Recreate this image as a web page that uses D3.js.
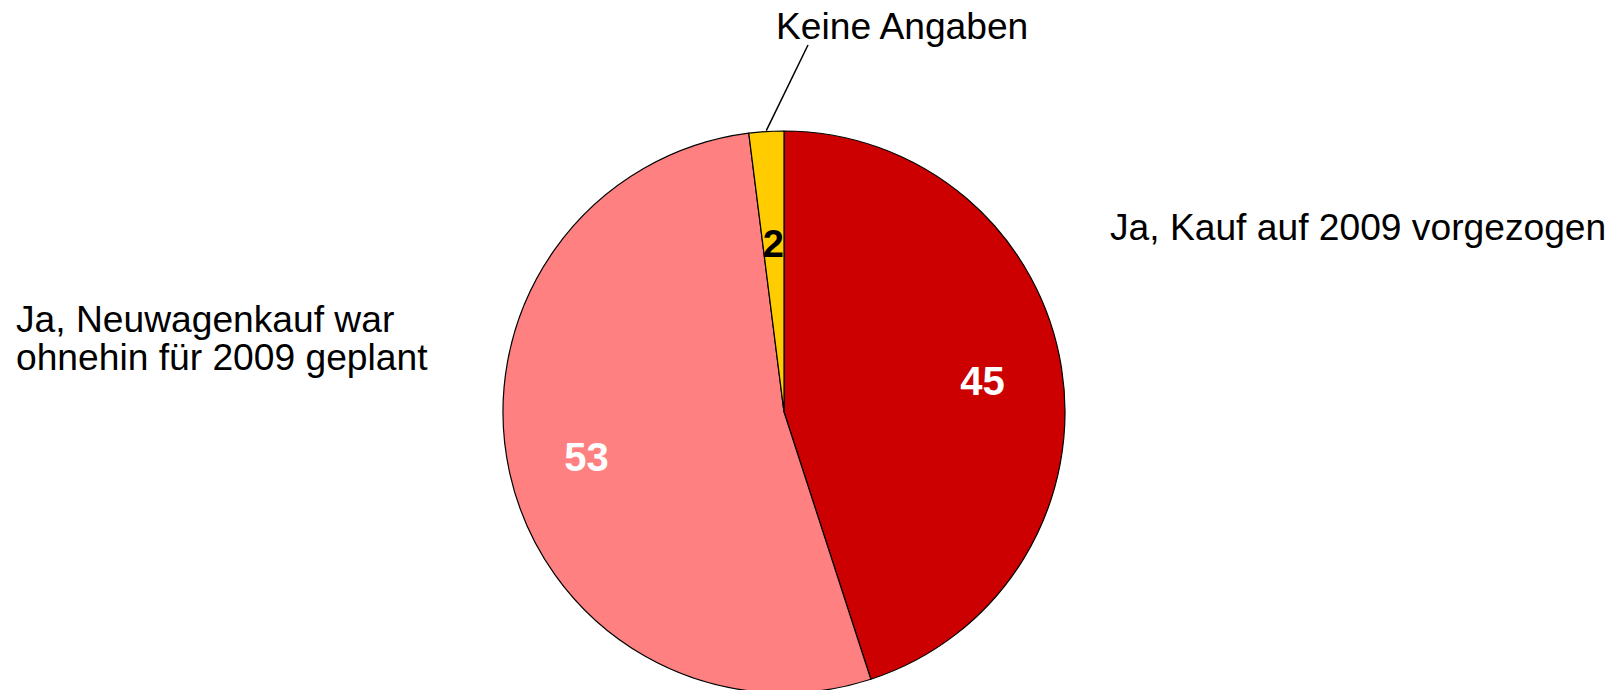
<!DOCTYPE html>
<html><head><meta charset="utf-8">
<script src="https://cdn.jsdelivr.net/npm/d3@7"></script>
<style>html,body{margin:0;padding:0;background:#fff;}svg{display:block;}</style>
</head><body>
<svg id="chart" width="1616" height="690"></svg>
<script>
const categories = ["Ja, Kauf auf 2009 vorgezogen", "Ja, Neuwagenkauf war ohnehin für 2009 geplant", "Keine Angaben"];
const values = [45, 53, 2];
const colors = ["#CC0000", "#FF8080", "#FFCC00"];
const valueLabelColors = ["#FFFFFF", "#FFFFFF", "#000000"];

const svg = d3.select("#chart");
const cx = 784, cy = 412, R = 281;
const g = svg.append("g").attr("transform", `translate(${cx},${cy})`);

const pie = d3.pie().sort(null).value(d => d).startAngle(0).endAngle(2 * Math.PI);
const arcs = pie(values);
const arc = d3.arc().innerRadius(0).outerRadius(R);

g.selectAll("path.slice").data(arcs).enter().append("path")
  .attr("class", "slice")
  .attr("d", arc)
  .attr("fill", (d, i) => colors[i])
  .attr("stroke", "#000")
  .attr("stroke-width", 1.2)
  .attr("stroke-linejoin", "round");

// value labels
const radFrac = [0.715, 0.72, 0.60];
const fsVal = [40, 40, 38];
g.selectAll("text.val").data(arcs).enter().append("text")
  .attr("class", "val")
  .attr("x", (d, i) => { const a = (d.startAngle + d.endAngle) / 2; return Math.sin(a) * radFrac[i] * R; })
  .attr("y", (d, i) => { const a = (d.startAngle + d.endAngle) / 2; return -Math.cos(a) * radFrac[i] * R; })
  .attr("text-anchor", "middle")
  .attr("dy", "0.36em")
  .attr("font-family", "Liberation Sans, Arial, sans-serif")
  .attr("font-weight", "bold")
  .attr("font-size", (d, i) => fsVal[i])
  .attr("fill", (d, i) => valueLabelColors[i])
  .text(d => d.data);

// category labels
const font = "Liberation Sans, Arial, sans-serif";
const fs = 37.2;
svg.append("text").attr("x", 1110).attr("y", 240)
  .attr("font-family", font).attr("font-size", fs).attr("fill", "#000")
  .text(categories[0]);

const left = svg.append("text").attr("x", 16).attr("y", 332)
  .attr("font-family", font).attr("font-size", fs).attr("fill", "#000");
left.append("tspan").attr("x", 16).attr("y", 332).text("Ja, Neuwagenkauf war");
left.append("tspan").attr("x", 16).attr("y", 370).text("ohnehin für 2009 geplant");

svg.append("text").attr("x", 776).attr("y", 39)
  .attr("font-family", font).attr("font-size", fs).attr("fill", "#000")
  .text(categories[2]);

// leader line for small slice
const ka = arcs[2];
const mid = (ka.startAngle + ka.endAngle) / 2;
const p1 = [cx + Math.sin(mid) * (R + 1), cy - Math.cos(mid) * (R + 1)];
svg.append("line")
  .attr("x1", p1[0]).attr("y1", p1[1])
  .attr("x2", 808).attr("y2", 45)
  .attr("stroke", "#000").attr("stroke-width", 1.5);
</script>
</body></html>
